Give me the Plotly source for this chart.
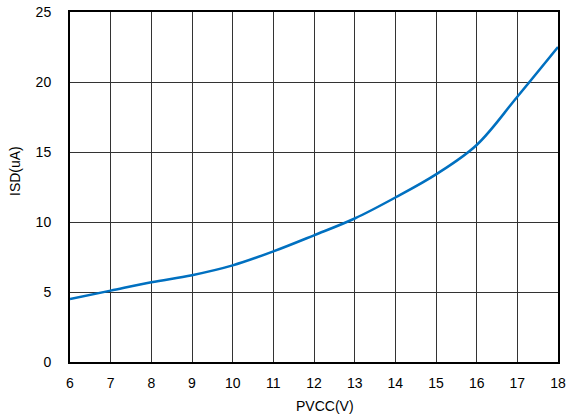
import plotly.graph_objects as go

pvcc = [6, 7, 8, 9, 10, 11, 12, 13, 14, 15, 16, 17, 18]
isd = [4.5, 5.1, 5.7, 6.2, 6.9, 7.9, 9.05, 10.25, 11.75, 13.4, 15.5, 18.95, 22.5]
x_ticks = list(range(6, 19))
y_ticks = [0, 5, 10, 15, 20, 25]

fig = go.Figure()
fig.add_trace(go.Scatter(x=pvcc, y=isd, mode="lines",
                         line=dict(color="#0070C0", width=2.5, shape="spline", smoothing=1.0),
                         showlegend=False, cliponaxis=False))

fig.update_layout(
    width=567, height=418,
    margin=dict(l=70, r=9, t=12, b=56),
    paper_bgcolor="white", plot_bgcolor="white",
    font=dict(family="Liberation Sans, Arial, sans-serif", size=14, color="black"),
    annotations=[
        dict(text="PVCC(V)", xref="paper", yref="paper", x=0.5225, y=-0.126,
             xanchor="center", yanchor="middle", showarrow=False, font=dict(size=14)),
        dict(text="ISD(uA)", xref="paper", yref="paper", x=-0.1127, y=0.5457,
             xanchor="center", yanchor="middle", showarrow=False, textangle=-90, font=dict(size=14)),
    ],
)
fig.update_xaxes(range=[6, 18], tickvals=x_ticks, showgrid=True, gridcolor="#333333", gridwidth=1,
                 showline=True, linecolor="black", linewidth=2, mirror=True, zeroline=False,
                 ticks="", ticklabelstandoff=7, automargin=False)
fig.update_yaxes(range=[0, 25], tickvals=y_ticks, showgrid=True, gridcolor="#333333", gridwidth=1,
                 showline=True, linecolor="black", linewidth=2, mirror=True, zeroline=False,
                 ticks="", ticklabelstandoff=14, automargin=False)
fig.write_html("out.html", config={"displayModeBar": False},
               post_script="document.body.style.margin='0';document.body.style.overflow='hidden';")
